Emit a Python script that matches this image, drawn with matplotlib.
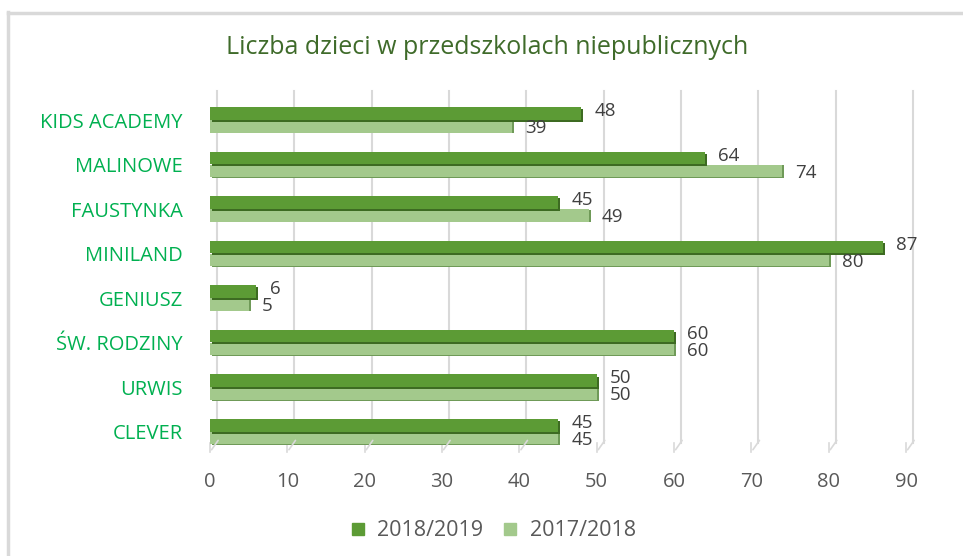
import matplotlib
matplotlib.use("Agg")
import matplotlib.pyplot as plt
import matplotlib.patheffects as pe
from matplotlib.transforms import ScaledTranslation
from matplotlib.lines import Line2D
import numpy as np

categories = ["CLEVER", "URWIS", "ŚW. RODZINY", "GENIUSZ", "MINILAND",
              "FAUSTYNKA", "MALINOWE", "KIDS ACADEMY"]
s2018_2019 = [45, 50, 60, 6, 87, 45, 64, 48]
s2017_2018 = [45, 50, 60, 5, 80, 49, 74, 39]
series_names = ["2018/2019", "2017/2018"]
xticks = list(range(0, 100, 10))

plt.rcParams['font.family'] = ['Open Sans', 'DejaVu Sans']

dark = "#5c9b35"
light = "#a3c98c"
fig = plt.figure(figsize=(9.63, 5.56), dpi=100)
ax = fig.add_axes([210/963, 1-452/556, 696/963, 352/556])

y = np.arange(len(categories))
h = 0.28
shadow = [pe.SimplePatchShadow(offset=(1.5, -1.5), shadow_rgbFace="#3d6b22", alpha=1.0), pe.Normal()]
shadow2 = [pe.SimplePatchShadow(offset=(1.5, -0.5), shadow_rgbFace="#6f9a58", alpha=1.0), pe.Normal()]
b1 = ax.barh(y + h/2 + 0.01, s2018_2019, height=h, color=dark, zorder=3)
b2 = ax.barh(y - h/2, s2017_2018, height=h, color=light, zorder=2)
for p in b1:
    p.set_path_effects(shadow)
for p in b2:
    p.set_path_effects(shadow2)

for yi, v in zip(y, s2018_2019):
    ax.text(v + 1.7, yi + h/2 + 0.06, str(v), va="center", ha="left",
            fontsize=13.5, color="#404040", zorder=5)
for yi, v in zip(y, s2017_2018):
    ax.text(v + 1.7, yi - h/2 - 0.04, str(v), va="center", ha="left",
            fontsize=13.5, color="#404040", zorder=5)

ax.set_xlim(0, 90)
ax.set_ylim(-0.45, 7.45)

# 3D-like gridlines on back wall
off = ScaledTranslation(7/100, 0, fig.dpi_scale_trans)
for xt in xticks:
    ax.plot([xt, xt], [-0.25, 7.65], color="#d9d9d9", lw=1.5,
            transform=ax.transData + off, zorder=0, clip_on=False)
    ax.plot([xt, xt], [-0.45, -0.25], color="#d9d9d9", lw=1.2,
            transform=ax.transData, zorder=0, clip_on=False)
    ax.annotate("", xy=(xt, -0.45), xytext=(7, 10), textcoords="offset points",
                xycoords="data", arrowprops=dict(arrowstyle="-", color="#d9d9d9", lw=1.2))

ax.set_xticks(xticks)
ax.set_xticklabels([str(t) for t in xticks], fontsize=14.5, color="#595959")
ax.set_yticks(y)
ax.set_yticklabels(categories, fontsize=14.5, color="#00b050")
ax.tick_params(axis="both", length=0)
ax.tick_params(axis="x", pad=14.5)
ax.tick_params(axis="y", pad=19.5)
for s in ax.spines.values():
    s.set_visible(False)
ax.set_facecolor("none")

fig.text(487/963, 1-48/556, "Liczba dzieci w przedszkolach niepublicznych",
         ha="center", va="center", fontsize=18, color="#3f6b2a")

handles = [Line2D([], [], marker="s", ls="", color=dark, markersize=9),
           Line2D([], [], marker="s", ls="", color=light, markersize=9)]
fig.legend(handles, series_names, loc="center", bbox_to_anchor=(486/963, 1-531/556),
           ncol=2, frameon=False, fontsize=15.5, handletextpad=-0.1, columnspacing=0.25,
           labelcolor="#595959")

# chart frame
fig.add_artist(Line2D([8/963, 8/963], [0, 1-12/556], color="#d9d9d9", lw=2.5, transform=fig.transFigure))
fig.add_artist(Line2D([8/963, 1], [1-13/556, 1-13/556], color="#d9d9d9", lw=2.5, transform=fig.transFigure))

fig.savefig("out.png", dpi=100)
